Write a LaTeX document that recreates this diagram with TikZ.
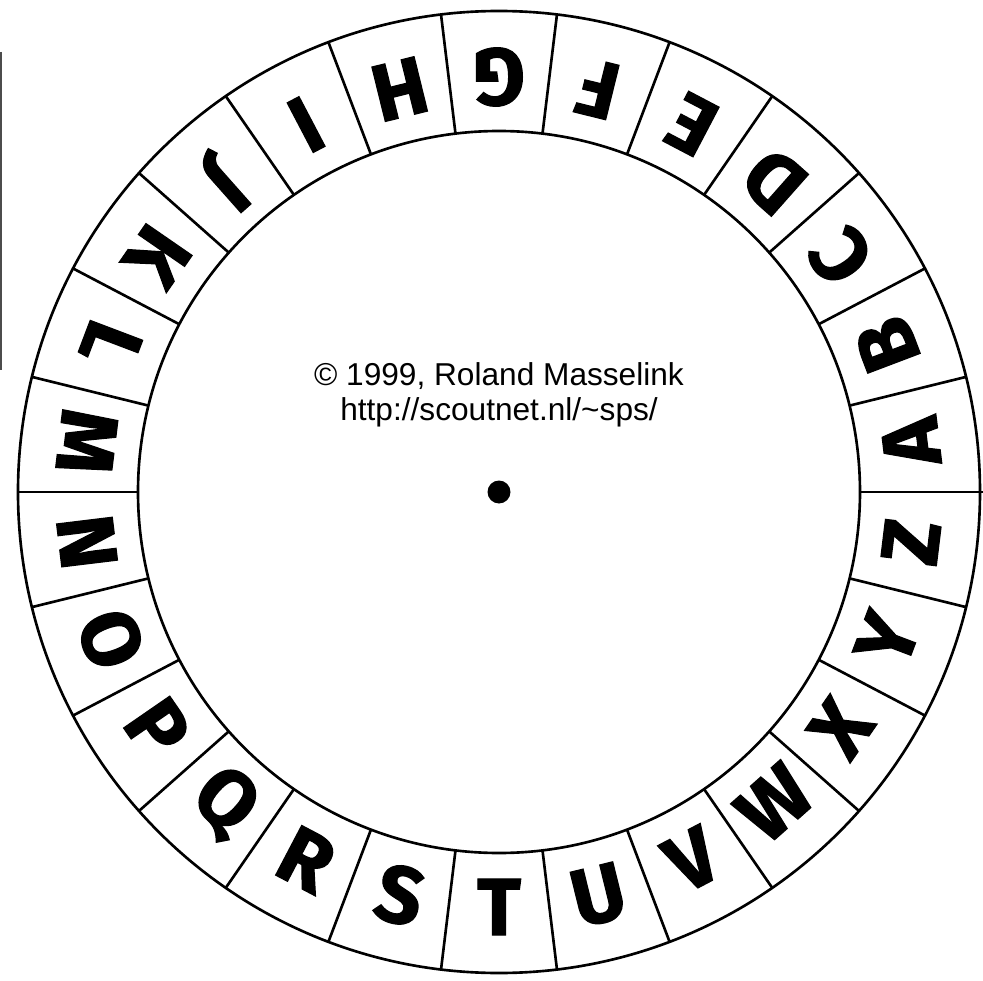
\documentclass[tikz,border=0pt]{standalone}
\usepackage{fontspec}
\setmainfont{Liberation Sans}
\newfontfamily\wheelfont{Fira Sans}[BoldFeatures={FakeBold=1.5}]
\begin{document}
\begin{tikzpicture}[
    rim/.style={draw, line width=1.5pt},
    spoke/.style={draw, line width=1.5pt},
    ltr/.style={font=\wheelfont\bfseries\fontsize{46}{46}\selectfont, inner sep=0pt},
    credit/.style={font=\fontsize{18}{19.9}\selectfont, align=center, inner sep=0pt},
    leftover/.style={draw=black!70, line width=1.5pt}
]
\useasboundingbox (-9.98,-9.76) rectangle (9.68,9.84);

% Outer and inner rim of the wheel
\draw[rim] (0,0) circle (9.62);
\draw[rim] (0,0) circle (7.22);

% Spokes between the letter cells
\foreach \k in {1,...,25}
  \draw[spoke] ({\k*360/26}:7.22) -- ({\k*360/26}:9.62);
% Spoke at 0 degrees runs out to the page edge
\coordinate (hubR) at (0:7.22);
\coordinate (edgeR) at (9.68,0);
\draw[spoke] (hubR) -- (edgeR);

% Letters, top of each letter towards the hub
\foreach \l [count=\i from 0] in {A,...,Z}
  \node[ltr, rotate={\i*360/26+180/26+90}] (ltr-\l) at ({\i*360/26+180/26}:8.3) {\l};

% Hub and credit line
\fill (0,0) circle (0.23);
\node[credit] (credit) at (0,1.95) {© 1999, Roland Masselink\\http://scoutnet.nl/\textasciitilde sps/};

% Left-over cut line on the left edge
\coordinate (cutT) at (-9.96,8.8);
\coordinate (cutB) at (-9.96,2.44);
\draw[leftover] (cutT) -- (cutB);

\end{tikzpicture}
\end{document}
